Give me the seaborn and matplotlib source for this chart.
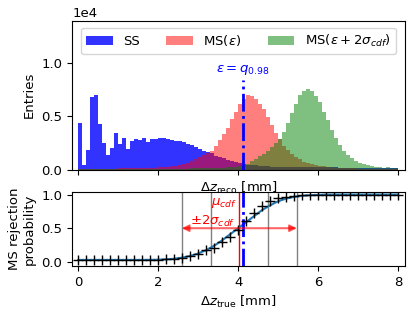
import numpy as np
import pandas as pd
import matplotlib
matplotlib.use('Agg')
import matplotlib.pyplot as plt
import seaborn as sns

# --- binned entries, 0.1 mm bins from 0 to 8 mm ---
ss_counts = [4400, 420, 1820, 6770, 6960, 4250, 2480, 1360, 2010, 3410,
             2380, 2940, 1920, 2660, 2850, 2760, 2940, 2570, 2850, 2900,
             2940, 2940, 2850, 2760, 2660, 2660, 2570, 2380, 2290, 2100,
             1920, 1730, 1640, 1550, 1260, 1170, 1070, 890, 800, 700,
             600, 520, 460, 420, 380, 340, 310, 290, 280, 270,
             265, 260, 255, 250, 245, 240, 235, 230, 225, 220,
             215, 210, 205, 200, 195, 190, 185, 180, 175, 170,
             165, 160, 155, 150, 150, 145, 140, 140, 135, 130]
ms_counts = [20, 30, 40, 60, 70, 80, 80, 85, 90, 95,
             100, 105, 110, 115, 120, 125, 130, 140, 150, 160,
             230, 235, 260, 330, 340, 420, 510, 600, 790, 980,
             1170, 1360, 1540, 1750, 2200, 2750, 3300, 3900, 4700, 5400,
             6150, 6600, 6950, 6870, 6600, 6120, 5650, 4900, 4150, 3400,
             2850, 2200, 1820, 1450, 1170, 980, 700, 600, 510, 420,
             330, 300, 240, 230, 140, 140, 130, 120, 110, 100,
             90, 80, 70, 60, 60, 50, 40, 40, 30, 30]
ms2_counts = [10, 10, 10, 10, 10, 15, 15, 20, 20, 25,
              25, 30, 30, 35, 35, 40, 40, 45, 50, 55,
              60, 65, 70, 75, 80, 85, 90, 95, 100, 105,
              110, 120, 130, 140, 150, 170, 190, 215, 240, 270,
              300, 380, 500, 800, 1000, 1250, 1500, 1730, 2100, 2480,
              2900, 3500, 4350, 5280, 6120, 6960, 7340, 7520, 7340, 6870,
              6310, 5390, 4640, 3710, 2930, 2290, 1730, 1355, 1090, 794,
              607, 500, 405, 310, 234, 234, 170, 234, 109, 109]

# --- MS rejection probability vs true dz ---
dz_true = [0.0, 0.2, 0.4, 0.6, 0.8, 1.0, 1.2, 1.4, 1.6, 1.8,
           2.0, 2.2, 2.4, 2.6, 2.8, 3.0, 3.2, 3.4, 3.6, 3.8,
           4.0, 4.2, 4.4, 4.6, 4.8, 5.0, 5.2, 5.4, 5.6, 5.8,
           6.0, 6.2, 6.4, 6.6, 6.8, 7.0, 7.2, 7.4, 7.6, 7.8, 8.0]
rej_prob = [0.03, 0.03, 0.03, 0.03, 0.03, 0.03, 0.03, 0.03, 0.03, 0.03,
            0.03, 0.04, 0.04, 0.06, 0.09, 0.12, 0.17, 0.20, 0.30, 0.37,
            0.48, 0.60, 0.73, 0.83, 0.90, 0.95, 0.97, 0.98, 0.99, 1.0,
            1.0, 1.0, 1.0, 1.0, 1.0, 1.0, 1.0, 1.0, 1.0, 1.0, 1.0]
fit_prob = [0.03, 0.03, 0.03, 0.03, 0.03, 0.03, 0.03, 0.03, 0.03, 0.031,
            0.033, 0.038, 0.047, 0.063, 0.088, 0.125, 0.175, 0.24, 0.32, 0.41,
            0.50, 0.59, 0.68, 0.77, 0.84, 0.90, 0.94, 0.965, 0.98, 0.99,
            0.995, 1.0, 1.0, 1.0, 1.0, 1.0, 1.0, 1.0, 1.0, 1.0, 1.0]

q98 = 4.13
mu_cdf = 4.03
sigma_cdf = 0.72

sns.set_style('ticks')
plt.rcParams['font.family'] = ['DejaVu Sans']
plt.rcParams['font.size'] = 9.5
plt.rcParams['axes.edgecolor'] = 'black'
plt.rcParams['text.color'] = 'black'
plt.rcParams['axes.labelcolor'] = 'black'
plt.rcParams['xtick.color'] = 'black'
plt.rcParams['ytick.color'] = 'black'

fig = plt.figure(figsize=(4.12, 3.14), dpi=100)
ax1 = fig.add_axes([0.175, 0.460, 0.808, 0.473])
ax2 = fig.add_axes([0.175, 0.153, 0.808, 0.234], sharex=ax1)

edges = [round(0.1 * i, 1) for i in range(81)]
hist_df = pd.DataFrame({
    'dz': [e + 0.05 for e in edges[:-1]],
    'ss': ss_counts,
    'ms': ms_counts,
    'ms2': ms2_counts,
})

sns.histplot(data=hist_df, x='dz', weights='ss', bins=edges, color='blue', alpha=0.8,
             linewidth=0, ax=ax1, label='SS')
sns.histplot(data=hist_df, x='dz', weights='ms', bins=edges, color='red', alpha=0.5,
             linewidth=0, ax=ax1, label=r'MS($\epsilon$)')
sns.histplot(data=hist_df, x='dz', weights='ms2', bins=edges, color='green', alpha=0.5,
             linewidth=0, ax=ax1, label=r'MS($\epsilon+2\sigma_{cdf}$)')

ax1.plot([q98, q98], [0, 8350], color='blue', linestyle='-.', lw=2)
ax1.text(q98, 9300, r'$\epsilon = q_{0.98}$', color='blue', ha='center', va='center')

ax1.set_xlim(-0.15, 8.17)
ax1.set_ylim(0, 13900)
ax1.set_yticks([0, 5000, 10000])
ax1.ticklabel_format(axis='y', style='sci', scilimits=(0, 0))
ax1.set_ylabel('Entries')
ax1.set_xlabel(r'$\Delta z_{\mathrm{reco}}$ [mm]')
ax1.tick_params(labelbottom=False)
ax1.legend(loc='upper center', ncol=3, columnspacing=2.0)

# bottom panel
for xv in [mu_cdf - 2 * sigma_cdf, mu_cdf - sigma_cdf, mu_cdf + sigma_cdf, mu_cdf + 2 * sigma_cdf]:
    ax2.axvline(xv, color='gray', lw=1)
ax2.axvline(mu_cdf, color='red', lw=1)
sns.lineplot(x=dz_true, y=fit_prob, ax=ax2, color='#1f77b4', lw=1.5)
sns.scatterplot(x=dz_true, y=rej_prob, ax=ax2, marker='+', color='black', s=45, linewidth=1, zorder=3)
ax2.axvline(q98, color='blue', linestyle='-.', lw=2)
ax2.annotate('', xy=(mu_cdf - 2 * sigma_cdf, 0.5), xytext=(mu_cdf + 2 * sigma_cdf, 0.5),
             arrowprops=dict(arrowstyle='<|-|>', color='red', alpha=0.6, lw=1.5,
                             shrinkA=0, shrinkB=0, mutation_scale=10))
ax2.text(mu_cdf - 0.06, 0.87, r'$\mu_{cdf}$', color='red', ha='right', va='center')
ax2.text(3.36, 0.6, r'$\pm2\sigma_{cdf}$', color='red', ha='center', va='center')

ax2.set_ylim(-0.06, 1.03)
ax2.set_yticks([0.0, 0.5, 1.0])
ax2.set_xticks([0, 2, 4, 6, 8])
ax2.set_ylabel('MS rejection\nprobability')
ax2.set_xlabel(r'$\Delta z_{\mathrm{true}}$ [mm]')

plt.savefig('out.png', dpi=100)
plt.close()
